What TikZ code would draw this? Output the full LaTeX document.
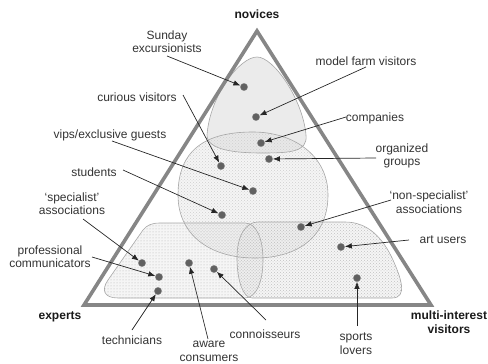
\documentclass[tikz,border=0pt]{standalone}
\usepackage{fontspec}
\setmainfont{Liberation Sans}
\usetikzlibrary{arrows.meta,patterns}
\begin{document}
\begin{tikzpicture}[x=1pt,y=-1pt,
  lbl/.style={font=\fontsize{12}{13.5}\selectfont, text=black!80, align=center, inner sep=0pt},
  corner/.style={font=\bfseries\fontsize{12}{14}\selectfont, text=black!90, align=center, inner sep=0pt},
  pt/.style={circle, fill=black!62, draw=black!45, line width=0.3pt, minimum size=7.4pt, inner sep=0pt},
  arr/.style={draw=black!85, line width=0.7pt, -{Latex[length=7pt,width=5.5pt]}},
  region/.style={draw=gray!70, line width=0.6pt},
  novicep/.style={insert path={(207,135) .. controls (210,95) and (240,57) .. (257,57) .. controls (274,57) and (303,100) .. (306,135) .. controls (308,152) and (290,153) .. (262,153) .. controls (235,153) and (207,150) .. (207,135) -- cycle}},
  circp/.style={insert path={(178,195) .. controls (178,150) and (205,132) .. (253,132) .. controls (293,132) and (328,155) .. (328,195) .. controls (328,235) and (300,258) .. (255,258) .. controls (210,258) and (178,235) .. (178,195) -- cycle}},
  expp/.style={insert path={(160,223) -- (245,223) .. controls (257,223) and (263,240) .. (263,260) .. controls (263,282) and (256,298) .. (245,298) -- (118,298) .. controls (104,298) and (101,290) .. (108,280) -- (143,230) .. controls (147,225) and (152,223) .. (160,223) -- cycle}},
  multp/.style={insert path={(258,222) -- (345,222) .. controls (368,222) and (383,238) .. (393,260) .. controls (401,278) and (408,298) .. (392,298) -- (252,298) .. controls (243,298) and (237,280) .. (237,258) .. controls (237,235) and (246,222) .. (258,222) -- cycle}}
]
\useasboundingbox (0,0) rectangle (488,364);

% regions
\fill[gray!16] [novicep];
\fill[gray!20, fill opacity=0.4] [circp];
\fill[pattern=crosshatch dots, pattern color=gray!38] [circp];
\fill[gray!20, fill opacity=0.4] [expp];
\fill[pattern=dots, pattern color=gray!60] [expp];
\fill[gray!20, fill opacity=0.4] [multp];
\fill[pattern=crosshatch dots, pattern color=gray!48] [multp];
\draw[region] [novicep];
\draw[region] [circp];
\draw[region] [expp];
\draw[region] [multp];

% triangle
\draw[gray!95, line width=3.6pt, line join=miter] (257,31) -- (431,305) -- (84,305) -- cycle;

% corner labels
\node[corner] (nov) at (257,14) {novices};
\node[corner] (exp) at (60,317) {experts};
\node[corner] (mul) at (449,322) {multi-interest\\visitors};

% dots
\node[pt] (dS)  at (244,87)  {};
\node[pt] (dM)  at (256,117) {};
\node[pt] (dCo) at (261,143) {};
\node[pt] (dO)  at (269,159) {};
\node[pt] (dC)  at (221,166) {};
\node[pt] (dV)  at (253,191) {};
\node[pt] (dSt) at (222,215) {};
\node[pt] (dN)  at (301,227) {};
\node[pt] (dAr) at (341,247) {};
\node[pt] (dSl) at (357,278) {};
\node[pt] (dSp) at (142,263) {};
\node[pt] (dP)  at (159,277) {};
\node[pt] (dT)  at (158,291) {};
\node[pt] (dA)  at (189,263) {};
\node[pt] (dCn) at (214,269) {};

% labels
\node[lbl] (lS)  at (167,41.5) {Sunday\\excursionists};
\node[lbl] (lC)  at (137,97)   {curious visitors};
\node[lbl] (lV)  at (110,135)  {vips/exclusive guests};
\node[lbl] (lSt) at (94,172)   {students};
\node[lbl] (lM)  at (366,61)   {model farm visitors};
\node[lbl] (lCo) at (375,118)  {companies};
\node[lbl] (lO)  at (402,156)  {organized\\groups};
\node[lbl] (lSp) at (72,203.5) {`specialist'\\associations};
\node[lbl] (lP)  at (50,256.5) {professional\\communicators};
\node[lbl] (lT)  at (132,340)  {technicians};
\node[lbl] (lA)  at (209,351.5){aware\\consumers};
\node[lbl] (lCn) at (265,334)  {connoisseurs};
\node[lbl] (lN)  at (429,202)  {`non-specialist'\\associations};
\node[lbl] (lAr) at (443,240)  {art users};
\node[lbl] (lSl) at (356,343.5){sports\\lovers};

% arrow tails
\coordinate (tS)  at (167,56);
\coordinate (tC)  at (183,95);
\coordinate (tV)  at (112,141);
\coordinate (tSt) at (123,170);
\coordinate (tM)  at (366,67);
\coordinate (tCo) at (346,117);
\coordinate (tO)  at (376,158);
\coordinate (tSp) at (83,219);
\coordinate (tP)  at (92,257);
\coordinate (tT)  at (132,330);
\coordinate (tA)  at (208,339);
\coordinate (tCn) at (266,320);
\coordinate (tN)  at (391,200);
\coordinate (tAr) at (409,240);
\coordinate (tSl) at (357,326);

% arrows
\draw[arr] (tS) -- (dS);
\draw[arr] (tC) -- (dC);
\draw[arr] (tV) -- (dV);
\draw[arr] (tSt) -- (dSt);
\draw[arr] (tM) -- (dM);
\draw[arr] (tCo) -- (dCo);
\draw[arr] (tO) -- (dO);
\draw[arr] (tSp) -- (dSp);
\draw[arr] (tP) -- (dP);
\draw[arr] (tT) -- (dT);
\draw[arr] (tA) -- (dA);
\draw[arr] (tCn) -- (dCn);
\draw[arr] (tN) -- (dN);
\draw[arr] (tAr) -- (dAr);
\draw[arr] (tSl) -- (dSl);
\end{tikzpicture}
\end{document}
